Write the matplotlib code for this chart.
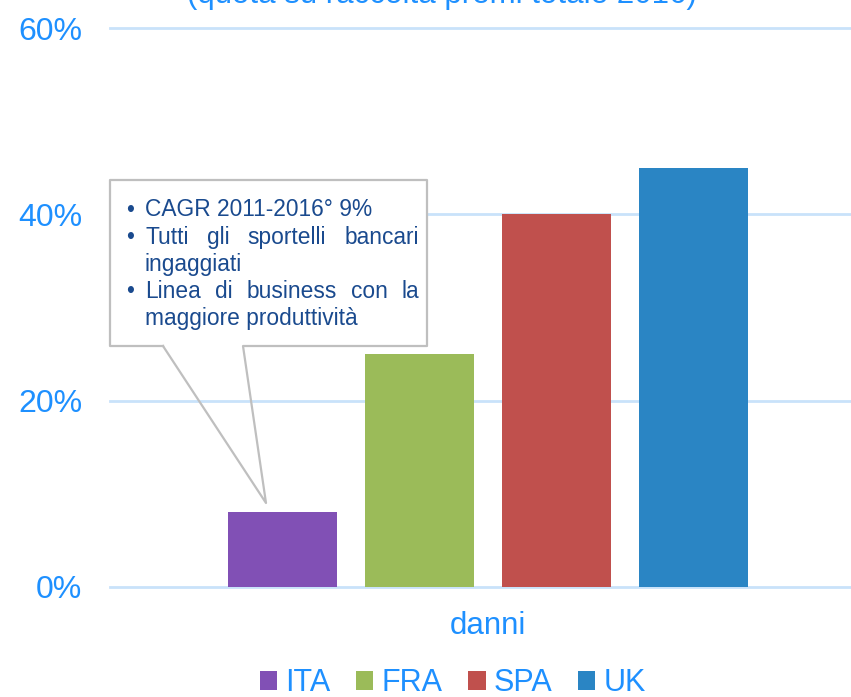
import matplotlib
matplotlib.use("Agg")
import matplotlib.pyplot as plt
import matplotlib.transforms as mtransforms
from matplotlib.patches import Rectangle
from matplotlib.lines import Line2D
import numpy as np

plt.rcParams['font.family'] = ['Liberation Sans', 'DejaVu Sans']

# ---- data ----
countries = ["ITA", "FRA", "SPA", "UK"]
values = [0.08, 0.25, 0.40, 0.45]
category = "danni"
yticks = [0.0, 0.2, 0.4, 0.6]
ytick_labels = ["0%", "20%", "40%", "60%"]
title = "(quota su raccolta premi totale 2016)"
note_lines = [
    ("CAGR 2011-2016° 9%", True, False),
    ("Tutti gli sportelli bancari", True, True),
    ("ingaggiati", False, False),
    ("Linea di business con la", True, True),
    ("maggiore produttività", False, False),
]

colors = ["#8150B5", "#9BBB59", "#C0504D", "#2A85C4"]
blue = "#1E90FF"
grid_col = "#C9E2FA"
note_col = "#1A4A8E"

W, H = 851, 697
fig = plt.figure(figsize=(W / 100, H / 100), dpi=100)
px = mtransforms.Affine2D().scale(1 / W, -1 / H).translate(0, 1) + fig.transFigure

ax = fig.add_axes([110 / W, (H - 587) / H, 741 / W, (587 - 28) / H])
x = np.arange(len(countries))
for i, (c, v, col) in enumerate(zip(countries, values, colors)):
    ax.bar(x[i], v, width=0.8, color=col, label=c, zorder=2)

ax.set_xlim(-1.259, 4.15)
ax.set_ylim(0, 0.6)
ax.set_yticks(yticks)
ax.set_yticklabels(ytick_labels)
ax.set_xticks([x.mean()])
ax.set_xticklabels([category])
ax.tick_params(axis='y', length=0, pad=20, labelsize=23, labelcolor=blue)
ax.tick_params(axis='x', length=0, pad=17, labelsize=22.5, labelcolor=blue)
for s in ax.spines.values():
    s.set_visible(False)
ax.grid(axis='y', color=grid_col, lw=2, zorder=0)
ax.set_axisbelow(True)
for gl in ax.get_ygridlines():
    gl.set_clip_on(False)

# title (clipped at top, as in the original)
fig.text(442, 3.5, title, transform=px, ha='center', va='baseline',
         fontsize=22.5, color=blue)

# legend
leg = fig.legend(loc='center', bbox_to_anchor=(453 / W, 0.0194), ncol=4,
                 frameon=False, fontsize=22, labelcolor=blue,
                 handlelength=0.56, handleheight=0.56, handletextpad=0.27,
                 columnspacing=0.84, borderpad=0, borderaxespad=0)

# callout box
fig.patches.append(Rectangle((110, 180), 317, 166, transform=px,
                             facecolor='white', edgecolor='none', zorder=5))
ox = [163, 110, 110, 427, 427, 243, 266, 163]
oy = [346, 346, 180, 180, 346, 346, 503, 346]
fig.lines.append(Line2D(ox, oy, transform=px, color='#BFBFBF', lw=1.6, zorder=6))

renderer = fig.canvas.get_renderer()
left, right = 145, 419
base0, step = 216.5, 27.2
fs = 16.4
for k, (line, bullet, justify) in enumerate(note_lines):
    yb = base0 + k * step
    if bullet:
        fig.text(126, yb, "•", transform=px, ha='left', va='baseline',
                 fontsize=fs, color=note_col, zorder=7)
    if not justify:
        fig.text(left, yb, line, transform=px, ha='left', va='baseline',
                 fontsize=fs, color=note_col, zorder=7)
        continue
    words = line.split()
    texts = [fig.text(left, yb, w, transform=px, ha='left', va='baseline',
                      fontsize=fs, color=note_col, zorder=7) for w in words]
    widths = [t.get_window_extent(renderer).width for t in texts]
    gap = (right - left - sum(widths)) / (len(words) - 1)
    xc = left
    for t, w in zip(texts, widths):
        t.set_x(xc)
        xc += w + gap

fig.savefig("out.png", dpi=100)
